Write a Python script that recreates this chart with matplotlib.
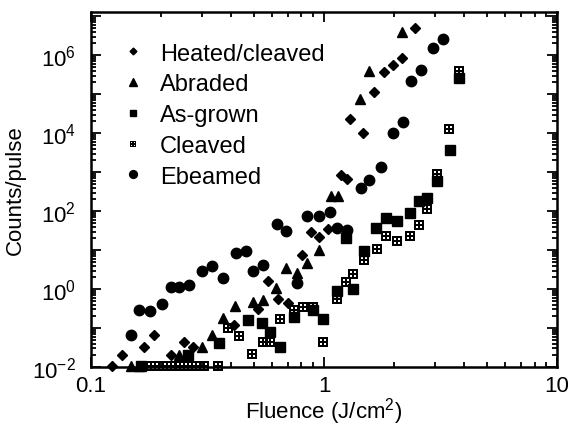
import matplotlib
matplotlib.use("Agg")
import matplotlib.pyplot as plt
import matplotlib.ticker as ticker
import numpy as np
from matplotlib.path import Path

plt.rcParams["font.family"] = ["Liberation Sans", "DejaVu Sans"]
plt.rcParams["mathtext.default"] = "regular"

# data (fluence in J/cm^2, counts per pulse)
heated_x = [0.123, 0.1355, 0.1695, 0.186, 0.221, 0.251, 0.275, 0.412, 0.519, 0.573,
            0.637, 0.703, 0.802, 0.875, 0.949, 1.035, 1.18, 1.249, 1.293, 1.463,
            1.642, 1.804, 1.968, 2.168, 2.449]
heated_y = [0.0106, 0.021, 0.0326, 0.066, 0.021, 0.045, 0.0326, 0.123, 0.307, 1.63,
            0.555, 0.433, 7.7, 29.4, 21.2, 34.5, 863, 681, 23800, 10400,
            1.12e5, 3.78e5, 5.7e5, 8.73e5, 5.0e6]

abraded_x = [0.148, 0.161, 0.239, 0.299, 0.330, 0.367, 0.417, 0.494, 0.549, 0.625,
             0.684, 0.762, 0.845, 0.952, 1.066, 1.143, 1.42, 1.552, 2.168]
abraded_y = [0.0109, 0.0109, 0.021, 0.0326, 0.066, 0.18, 0.366, 0.456, 0.53, 1.06,
             3.45, 2.53, 4.56, 10, 238, 238, 76700, 3.89e5, 3.89e6]

asgrown_x = [0.164, 0.262, 0.354, 0.474, 0.541, 0.586, 0.648, 0.746, 0.90, 0.993,
             1.134, 1.24, 1.336, 1.489, 1.677, 1.845, 2.05, 2.34, 2.55, 2.77,
             3.06, 3.46, 3.81]
asgrown_y = [0.0105, 0.0203, 0.041, 0.163, 0.134, 0.078, 0.032, 0.188, 0.29, 0.17,
             0.90, 20.3, 1.0, 9.6, 36.6, 68, 57, 90, 184, 212,
             598, 3620, 2.68e5]

cleaved_x = [0.174, 0.188, 0.204, 0.221, 0.241, 0.261, 0.282, 0.305, 0.351, 0.387,
             0.432, 0.491, 0.545, 0.586, 0.648, 0.743, 0.815, 0.90, 0.993, 1.134,
             1.24, 1.336, 1.489, 1.683, 1.845, 2.05, 2.34, 2.56, 2.77, 3.05,
             3.45, 3.81]
cleaved_y = [0.0105, 0.0105, 0.0105, 0.0105, 0.0105, 0.0105, 0.0105, 0.0105, 0.0105, 0.1,
             0.061, 0.0215, 0.043, 0.043, 0.17, 0.29, 0.34, 0.34, 0.043, 0.555,
             1.49, 2.42, 5.6, 10.6, 22.4, 17.5, 23.5, 43.7, 112, 889,
             12700, 3.95e5]

ebeam_x = [0.148, 0.161, 0.179, 0.202, 0.221, 0.239, 0.264, 0.299, 0.330, 0.367,
           0.418, 0.461, 0.497, 0.549, 0.627, 0.687, 0.764, 0.843, 0.954, 1.061,
           1.14, 1.26, 1.437, 1.564, 1.75, 1.98, 2.18, 2.36, 2.60, 2.94, 3.23]
ebeam_y = [0.067, 0.29, 0.27, 0.41, 1.12, 1.12, 1.29, 2.9, 3.96, 1.88,
           8.2, 9.6, 2.94, 4.2, 45.6, 31, 1.43, 76, 73, 93,
           38, 33, 382, 624, 1321, 10400, 19500, 2.19e5, 4.2e5, 1.57e6, 2.68e6]


def grid_square():
    # black square with four small white windows
    verts = [(-1, -1), (1, -1), (1, 1), (-1, 1), (-1, -1)]
    codes = [Path.MOVETO, Path.LINETO, Path.LINETO, Path.LINETO, Path.CLOSEPOLY]
    a, b = 0.18, 0.62
    for sx in (-1, 1):
        for sy in (-1, 1):
            x0, x1 = sorted((sx * a, sx * b))
            y0, y1 = sorted((sy * a, sy * b))
            verts += [(x0, y0), (x0, y1), (x1, y1), (x1, y0), (x0, y0)]
            codes += [Path.MOVETO, Path.LINETO, Path.LINETO, Path.LINETO, Path.CLOSEPOLY]
    return Path(verts, codes)


def ylab(v, p):
    e = int(round(np.log10(v))) if v > 0 else 0
    return rf"$10^{{{e}}}$" if e % 2 == 0 else ""


fig = plt.figure(figsize=(5.72, 4.27), dpi=100)
ax = fig.add_axes([0.159, 0.138, 0.815, 0.832])

ax.plot(heated_x, heated_y, ls="none", marker="D", ms=4.6, color="black",
        label="Heated/cleaved", clip_on=False)
ax.plot(abraded_x, abraded_y, ls="none", marker="^", ms=7, color="black",
        label="Abraded", clip_on=False)
ax.plot(asgrown_x, asgrown_y, ls="none", marker="s", ms=6.5, color="black",
        label="As-grown", clip_on=False)
ax.plot(cleaved_x, cleaved_y, ls="none", marker=grid_square(), ms=6.5, color="black",
        mew=0, label="Cleaved", clip_on=False)
ax.plot(ebeam_x, ebeam_y, ls="none", marker="o", ms=7.5, color="black",
        label="Ebeamed", clip_on=False)

ax.set_xscale("log")
ax.set_yscale("log")
ax.set_xlim(0.1, 10)
ax.set_ylim(1e-2, 1.3e7)

ax.xaxis.set_major_locator(ticker.LogLocator(base=10, numticks=10))
ax.xaxis.set_major_formatter(ticker.FuncFormatter(lambda v, p: f"{v:g}"))
ax.yaxis.set_major_locator(ticker.LogLocator(base=10, numticks=20))
ax.yaxis.set_minor_locator(ticker.LogLocator(base=10, subs=range(2, 10), numticks=20))
ax.yaxis.set_major_formatter(ticker.FuncFormatter(ylab))

ax.tick_params(which="both", direction="in", top=True, right=True, width=1.3)
ax.tick_params(which="major", length=7, labelsize=16)
ax.tick_params(axis="y", which="major", pad=11)
ax.tick_params(axis="x", which="major", pad=6)
ax.tick_params(which="minor", length=3.5)
for s in ax.spines.values():
    s.set_linewidth(1.8)

ax.set_xlabel(r"Fluence (J/cm$^2$)", fontsize=16, labelpad=-1)
ax.set_ylabel("Counts/pulse", fontsize=16, labelpad=4)

ax.legend(loc="upper left", bbox_to_anchor=(0.045, 0.94), frameon=False, fontsize=17,
          markerscale=0.75, handlelength=1.0, handletextpad=0.64, labelspacing=0.37,
          borderaxespad=0)

fig.savefig("out.png", dpi=100)
